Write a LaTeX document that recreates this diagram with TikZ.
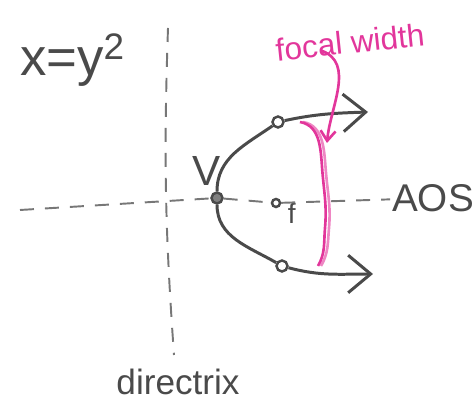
\documentclass[tikz,border=0pt]{standalone}
\usepackage{fontspec}
\setmainfont{Liberation Sans}
\usetikzlibrary{positioning, arrows.meta}
\usepackage{xcolor}
\definecolor{pencil}{HTML}{4A4A4A}
\definecolor{marker}{HTML}{E2369B}
\tikzstyle{point} = [
circle,
draw=pencil,
line width=1.4pt,
inner sep=0pt,
minimum size=0.22cm
]
\tikzstyle{curve} = [draw=pencil, line width=1.7pt]
\tikzstyle{arrow} = [curve, -{Straight Barb[length=0.45cm,width=0.75cm]}]
\tikzstyle{axis} = [draw=pencil!75, line width=1.1pt, dash pattern=on 0.28cm off 0.22cm]
\tikzstyle{label} = [text=pencil, inner sep=1pt]
\tikzstyle{note} = [text=marker, inner sep=1pt]
\tikzstyle{noteline} = [draw=marker, line width=1.5pt]
\tikzstyle{notearrow} = [noteline, -{Straight Barb[length=0.2cm,width=0.3cm]}]

\begin{document}
\begin{tikzpicture}
        \useasboundingbox (0,0) rectangle (9.46,8.06);

        % parabola points
        \node(vertex)[point, fill=pencil!70] at (4.34,4.10) {};
        \node(focus)[point, minimum size=0.16cm] at (5.52,4.00) {};
        \node(upper)[point] at (5.56,5.62) {};
        \node(lower)[point] at (5.64,2.74) {};
        \coordinate(upperend) at (7.36,5.82);
        \coordinate(lowerend) at (7.46,2.58);

        % axis and directrix
        \coordinate(aosleft) at (0.4,3.86);
        \coordinate(dirtop) at (3.36,7.50);
        \coordinate(dirbot) at (3.48,0.96);
        \node(aos)[label, font=\fontsize{22}{22}\selectfont] at (8.66,4.10) {AOS};
        \node(directrix)[label, font=\fontsize{20}{20}\selectfont] at (3.56,0.42) {directrix};

        % labels
        \node(eqn)[label, font=\fontsize{30}{30}\selectfont] at (1.45,6.85) {x=y\textsuperscript{2}};
        \node(vlabel)[label, font=\fontsize{24}{24}\selectfont, above left=0.12cm and -0.2cm of vertex] {V};
        \node(flabel)[label, font=\fontsize{16}{16}\selectfont, below right=-0.12cm and 0.12cm of focus] {f};
        \node(focalwidth)[note, font=\fontsize{18}{18}\selectfont, rotate=6] at (7.0,7.22) {focal width};
        \coordinate(bracetop) at (6.0,5.62);
        \coordinate(bracetip) at (6.54,5.20);
        \coordinate(bracebot) at (6.36,2.74);

        \draw[axis] (dirtop) to[bend right=3] (dirbot);
        \draw[axis] (aosleft) -- (vertex);
        \draw[axis] (vertex) -- (focus);
        \draw[axis] (focus) -- (aos);

        \draw[curve] (upper) to[out=215,in=90] (vertex);
        \draw[curve] (vertex) to[out=-90,in=150] (lower);
        \draw[arrow] (upper) to[out=12,in=182] (upperend);
        \draw[arrow] (lower) to[out=-15,in=180] (lowerend);

        \draw[noteline] (bracetop) to[out=-10,in=95] (6.45,4.6) to[out=-85,in=85] (6.5,3.5) to[out=-95,in=60] (bracebot);
        \draw[noteline, opacity=0.6] ([xshift=0.06cm]bracetop) to[out=-10,in=95] (6.52,4.6) to[out=-85,in=85] (6.58,3.5) to[out=-95,in=60] ([xshift=0.06cm]bracebot);
        \draw[notearrow] ([xshift=-0.6cm,yshift=0.1cm]focalwidth.south) to[out=-20,in=85] (bracetip);

\end{tikzpicture}
\end{document}
